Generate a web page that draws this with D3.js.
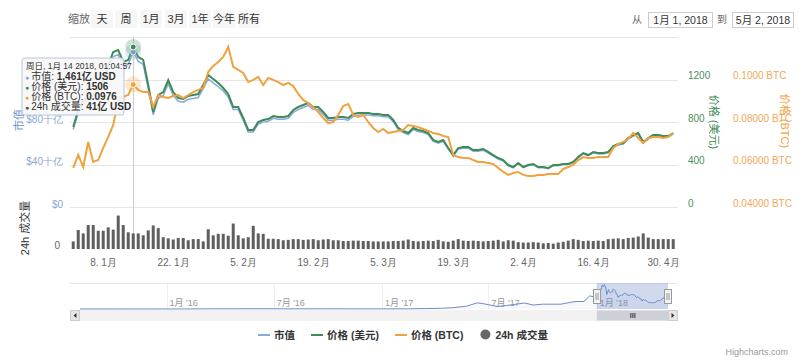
<!DOCTYPE html>
<html><head><meta charset="utf-8">
<script src="https://cdn.jsdelivr.net/npm/d3@7"></script>
<style>
html,body{margin:0;padding:0;background:#fff;}
svg{display:block;font-family:"Liberation Sans","Noto Sans CJK SC",sans-serif;}
</style></head>
<body><svg id="c" width="800" height="360"></svg>
<script>
// ---------- DATA ----------
const startDate = "2018-01-02";           // first daily point (Jan 2 … May 2)
const priceUSD = [753,913,1007,1026,1054,1120,1195,1336,1459,1478,
 1365,1384,1506,1412,1384,1148,894,1054,1082,1195,
 1082,1026,1016,1045,1054,1063,1148,1242,1205,1167,
 1120,1063,941,941,838,725,725,800,819,828,
 856,847,847,856,913,941,960,979,941,941,
 894,838,838,847,847,838,875,885,885,885,
 875,875,866,866,819,744,715,696,744,725,
 715,696,631,612,631,555,489,555,565,565,
 536,536,546,518,489,461,442,395,376,414,
 376,395,405,376,376,367,395,395,405,405,
 424,471,508,489,518,508,508,518,574,593,
 602,649,678,696,612,649,678,678,668,668,696];
const priceBTC = [0.0584,0.0645,0.0588,0.0706,0.0612,0.0621,0.0678,0.0729,0.0786,0.0904,
 0.0918,0.0927,0.0976,0.0951,0.0941,0.0941,0.0871,0.0927,0.0918,0.0913,
 0.0922,0.0927,0.0913,0.0927,0.0941,0.0951,0.0960,0.1035,0.1064,0.1082,
 0.1106,0.1153,0.1059,0.1045,0.1031,0.0988,0.0998,0.1012,0.0974,0.1007,
 0.0998,0.0988,0.0974,0.0984,0.0969,0.0932,0.0904,0.0889,0.0871,0.0847,
 0.0819,0.0795,0.0800,0.0833,0.0875,0.0885,0.0833,0.0824,0.0833,0.0800,
 0.0772,0.0753,0.0767,0.0748,0.0753,0.0758,0.0762,0.0786,0.0781,0.0776,
 0.0767,0.0758,0.0748,0.0744,0.0734,0.0729,0.0645,0.0635,0.0631,0.0631,
 0.0621,0.0612,0.0612,0.0607,0.0602,0.0584,0.0565,0.0551,0.0560,0.0565,
 0.0551,0.0546,0.0546,0.0551,0.0551,0.0555,0.0555,0.0555,0.0579,0.0588,
 0.0598,0.0621,0.0635,0.0631,0.0631,0.0635,0.0635,0.0635,0.0678,0.0696,
 0.0706,0.0720,0.0748,0.0725,0.0701,0.0725,0.0729,0.0729,0.0725,0.0729,0.0748];
// market cap, billions USD (十亿)
const marketCap = [73.0,88.6,97.7,99.5,102.2,108.6,115.9,129.6,141.5,143.4,
 132.4,134.2,146.1,137.0,134.2,111.4,86.7,102.2,105.0,115.9,
 105.0,99.5,98.6,101.4,102.2,103.1,111.4,120.5,116.9,113.2,
 109.2,103.6,91.7,91.7,81.7,70.7,70.7,78.0,79.9,80.7,
 83.5,82.6,82.6,83.5,89.0,91.7,93.6,95.5,91.7,91.7,
 87.2,81.7,81.7,82.6,82.6,81.7,85.3,86.3,86.7,86.7,
 85.8,85.8,84.9,84.9,80.3,72.9,70.1,68.2,72.9,71.1,
 70.1,68.2,61.8,60.0,61.8,54.4,47.9,54.4,55.4,55.4,
 52.5,52.5,53.5,50.8,47.9,45.2,43.3,38.7,36.8,40.8,
 37.0,38.9,39.9,37.0,37.0,36.1,38.9,38.9,39.9,39.9,
 41.8,46.4,50.0,48.2,51.0,50.0,50.0,51.0,56.5,58.4,
 59.3,63.9,66.8,68.6,60.3,63.9,66.8,66.8,65.8,65.8,68.6];
// 24h volume, 亿 USD
const volume = [20,50,41,63,63,48,48,57,51,88,
 63,44,41,41,36,49,62,55,31,28,
 25,29,29,23,26,26,20,52,36,40,
 40,35,67,36,28,31,61,41,40,27,
 27,26,23,24,26,26,24,25,26,23,
 25,26,23,23,21,21,22,22,21,21,
 20,20,20,20,21,21,22,25,21,20,
 21,22,21,24,20,19,22,26,22,21,
 22,21,20,21,22,24,20,23,22,18,
 17,17,18,17,15,16,14,17,19,22,
 26,24,21,22,21,22,21,26,27,28,
 26,29,30,33,41,30,26,26,26,26,26];
// navigator history before 2018 (market cap, billions)
const historyDates = ["2015-08-07","2015-11-01","2016-02-01","2016-03-15","2016-06-15","2016-07-15","2016-10-01","2017-01-01","2017-02-15","2017-03-15","2017-04-10","2017-05-01","2017-05-25","2017-06-12","2017-06-25","2017-07-16","2017-08-01","2017-08-31","2017-09-15","2017-10-01","2017-11-01","2017-11-25","2017-12-10","2017-12-20","2017-12-31"];
const historyCap = [0.2,0.07,0.2,1.0,1.5,1.0,1.1,0.7,1.1,2.5,4.3,7.5,17,37,30,15,21,36,24,29,29,45,45,78,72];

const xTickDates = ["2018-01-08","2018-01-22","2018-02-05","2018-02-19","2018-03-05","2018-03-19","2018-04-02","2018-04-16","2018-04-30"];
const capTicks = [0,40,80];               // $120十亿 is hidden under the tooltip in the reference
const capTickLabels = ["$0","$40十亿","$80十亿"];
const usdTicks = [0,400,800,1200];
const btcTicks = [0.04,0.06,0.08,0.10];
const btcTickLabels = ["0.04000 BTC","0.06000 BTC","0.08000 BTC","0.1000 BTC"];
const navTickDates = ["2016-01-01","2016-07-01","2017-01-01","2017-07-01","2018-01-01"];
const navTickLabels = ["1月 '16","7月 '16","1月 '17","7月 '17","1月 '18"];
const rangeButtons = ["天","周","1月","3月","1年","今年","所有"];
const seriesNames = ["市值","价格 (美元)","价格 (BTC)","24h 成交量"];
const tooltipDate = "2018-01-14";
const tooltipHeader = "周日, 1月 14 2018, 01:04:57";
const tooltipValues = ["1,461亿 USD","1506","0.0976","41亿 USD"];
const rangeFrom = "1月 1, 2018", rangeTo = "5月 2, 2018";

// ---------- SETUP ----------
const C = {cap:"#86aadb", usd:"#3f8b57", btc:"#f0a23e", vol:"#666666", nav:"#6c8cc9"};
const parse = d3.timeParse("%Y-%m-%d");
const t0 = parse(startDate);
const dates = priceUSD.map((_,i)=>{const d=d3.timeDay.offset(t0,i); d.setHours(1,4,57); return d;});
const svg = d3.select("#c");
svg.append("rect").attr("width",800).attr("height",360).attr("fill","#fff");

const L=70, R=678, mainTop=37, mainBot=207, volTop=211, volBot=249;
const x = d3.scaleTime().domain([new Date(2018,0,1), new Date(2018,4,3)]).range([68,678]);
const yUSD = d3.scaleLinear().domain([0,1600]).range([mainBot,mainTop]);
const yBTC = d3.scaleLinear().domain([0.04,0.12]).range([mainBot,mainTop]);
const yCap = d3.scaleLinear().domain([0,160]).range([mainBot,mainTop]);
const yVol = d3.scaleLinear().domain([0,100]).range([volBot,volTop]);

// gridlines
svg.append("g").selectAll("line").data([0,400,800,1200,1600]).join("line")
  .attr("x1",L).attr("x2",R).attr("y1",d=>Math.round(yUSD(d))+0.5).attr("y2",d=>Math.round(yUSD(d))+0.5)
  .attr("stroke","#e6e6e6");

// axes
const axL = d3.axisLeft(yCap).tickValues(capTicks).tickFormat((d,i)=>capTickLabels[i]).tickSize(0).tickPadding(7);
const gL = svg.append("g").attr("transform",`translate(${L},-3)`).call(axL);
const axR1 = d3.axisRight(yUSD).tickValues(usdTicks).tickFormat(d3.format("d")).tickSize(0).tickPadding(18);
const gR1 = svg.append("g").attr("transform",`translate(${R-8},-4)`).call(axR1);
const axR2 = d3.axisRight(yBTC).tickValues(btcTicks).tickFormat((d,i)=>btcTickLabels[i]).tickSize(0).tickPadding(55);
const gR2 = svg.append("g").attr("transform",`translate(${R},-4)`).call(axR2);
[gL,gR1,gR2].forEach(g=>{g.select(".domain").remove(); g.selectAll("text").attr("font-size",10).attr("font-family",null);});
gL.selectAll("text").attr("fill","#8aa6d4");
gR1.selectAll("text").attr("fill","#4a8f5e");
gR2.selectAll("text").attr("fill","#f2a85a");

const axV = d3.axisLeft(yVol).tickValues([0]).tickSize(0).tickPadding(10);
const gV = svg.append("g").attr("transform",`translate(${L},-4)`).call(axV);
gV.select(".domain").remove(); gV.selectAll("text").attr("font-size",10).attr("fill","#666").attr("font-family",null);

const xAx = d3.axisBottom(x).tickValues(xTickDates.map(parse))
  .tickFormat(d=>`${d.getDate()}. ${d.getMonth()+1}月`).tickSize(0).tickPadding(8);
const gX = svg.append("g").attr("transform",`translate(0,${volBot+2})`).call(xAx);
gX.select(".domain").remove(); gX.selectAll("text").attr("font-size",10).attr("fill","#666").attr("font-family",null);

// axis titles
svg.append("text").attr("transform","translate(23,120) rotate(-90)").attr("text-anchor","middle")
  .attr("font-size",11).attr("fill","#6f93cf").text(seriesNames[0]);
svg.append("text").attr("transform","translate(710,122) rotate(90)").attr("text-anchor","middle")
  .attr("font-size",11).attr("fill","#3f8b57").text(seriesNames[1]);
svg.append("text").attr("transform","translate(781,121) rotate(90)").attr("text-anchor","middle")
  .attr("font-size",11).attr("fill","#f0a23e").text(seriesNames[2]);
svg.append("text").attr("transform","translate(29,228) rotate(-90)").attr("text-anchor","middle")
  .attr("font-size",11).attr("fill","#333").text(seriesNames[3]);

// crosshair
const ti = dates.findIndex(d=>d3.timeFormat("%Y-%m-%d")(d)===tooltipDate);
const xCross = x(dates[ti]);
svg.append("line").attr("x1",Math.round(xCross)+0.5).attr("x2",Math.round(xCross)+0.5)
  .attr("y1",mainTop).attr("y2",volBot).attr("stroke","#cccccc");

// volume bars
svg.append("g").selectAll("rect").data(volume).join("rect")
  .attr("x",(d,i)=>x(dates[i])-1.5).attr("width",3)
  .attr("y",d=>yVol(d)).attr("height",d=>volBot-yVol(d)).attr("fill","#5f5f5f");

// lines
const mk = ys => d3.line().x((d,i)=>x(dates[i])).y(d=>ys(d));
svg.append("path").datum(marketCap).attr("d",mk(yCap)).attr("fill","none").attr("stroke",C.cap).attr("stroke-width",1.5);
svg.append("path").datum(priceUSD).attr("d",mk(yUSD)).attr("fill","none").attr("stroke",C.usd).attr("stroke-width",2);
svg.append("path").datum(priceBTC).attr("d",mk(yBTC)).attr("fill","none").attr("stroke",C.btc).attr("stroke-width",2);

// hover markers
[[yCap(marketCap[ti]),C.cap],[yUSD(priceUSD[ti]),C.usd],[yBTC(priceBTC[ti]),C.btc]].forEach(([yy,c])=>{
  svg.append("circle").attr("cx",xCross).attr("cy",yy).attr("r",8).attr("fill",c).attr("opacity",0.25);
  svg.append("circle").attr("cx",xCross).attr("cy",yy).attr("r",3).attr("fill",c).attr("stroke","#fff").attr("stroke-width",1);
});

// tooltip
const tt = svg.append("g").attr("transform","translate(22,58)");
tt.append("rect").attr("width",102).attr("height",57).attr("rx",3)
  .attr("fill","rgba(247,247,247,0.9)").attr("stroke","#b9c6dc");
tt.append("text").attr("x",4).attr("y",11).attr("font-size",8.5).attr("fill","#333").text(tooltipHeader);
const tCols = [C.cap,C.usd,C.btc,"#555"];
seriesNames.forEach((n,i)=>{
  const t = tt.append("text").attr("x",3).attr("y",22+i*10).attr("font-size",10).attr("fill","#333");
  t.append("tspan").attr("fill",tCols[i]).attr("font-size",7).text("● ");
  t.append("tspan").text(n+": ");
  t.append("tspan").attr("font-weight","bold").text(tooltipValues[i]);
});

// range selector
svg.append("text").attr("x",79).attr("y",23).attr("text-anchor","middle").attr("font-size",11).attr("fill","#666").text("缩放");
const bx = [102,126,151,176,200,224,249];
rangeButtons.forEach((b,i)=>{
  svg.append("rect").attr("x",bx[i]-11).attr("y",10).attr("width",22).attr("height",18).attr("rx",2).attr("fill","#f7f7f7");
  svg.append("text").attr("x",bx[i]).attr("y",23).attr("text-anchor","middle").attr("font-size",11).attr("fill","#333").text(b);
});
svg.append("text").attr("x",637).attr("y",23).attr("text-anchor","middle").attr("font-size",10).attr("fill","#666").text("从");
svg.append("rect").attr("x",648.5).attr("y",12.5).attr("width",64).attr("height",15).attr("fill","#fff").attr("stroke","#cccccc");
svg.append("text").attr("x",680.5).attr("y",24).attr("text-anchor","middle").attr("font-size",10.5).attr("fill","#333").text(rangeFrom);
svg.append("text").attr("x",722).attr("y",23).attr("text-anchor","middle").attr("font-size",10).attr("fill","#666").text("到");
svg.append("rect").attr("x",732.5).attr("y",12.5).attr("width",61).attr("height",15).attr("fill","#fff").attr("stroke","#cccccc");
svg.append("text").attr("x",763).attr("y",24).attr("text-anchor","middle").attr("font-size",10.5).attr("fill","#333").text(rangeTo);

// ---------- NAVIGATOR ----------
const navTop=283, navBot=309;
const nx = d3.scaleTime().domain([parse("2015-08-07"), parse("2018-05-02")]).range([80,668]);
const ny = d3.scaleLinear().domain([0,150]).range([navBot,navTop+1]);
svg.append("line").attr("x1",L).attr("x2",R).attr("y1",navTop+0.5).attr("y2",navTop+0.5).attr("stroke","#e6e6e6");
const navT = navTickDates.map(parse);
svg.append("g").selectAll("line").data(navT).join("line")
  .attr("x1",d=>Math.round(nx(d))+0.5).attr("x2",d=>Math.round(nx(d))+0.5)
  .attr("y1",navTop).attr("y2",navBot).attr("stroke","#eeeeee");
svg.append("g").selectAll("text").data(navT).join("text")
  .attr("x",d=>nx(d)+3).attr("y",navBot-3).attr("font-size",9).attr("fill","#999")
  .text((d,i)=>navTickLabels[i]);
const navData = historyDates.map((d,i)=>[parse(d),historyCap[i]]).concat(dates.map((d,i)=>[d,marketCap[i]]));
svg.append("path").datum(navData)
  .attr("d",d3.area().x(d=>nx(d[0])).y0(navBot).y1(d=>ny(d[1])))
  .attr("fill",C.nav).attr("opacity",0.06);
svg.append("path").datum(navData)
  .attr("d",d3.line().x(d=>nx(d[0])).y(d=>ny(d[1])))
  .attr("fill","none").attr("stroke",C.nav).attr("stroke-width",1);
const selA = nx(parse("2018-01-01")), selB = nx(parse("2018-05-02"));
svg.append("rect").attr("x",selA).attr("y",navTop).attr("width",selB-selA).attr("height",navBot-navTop)
  .attr("fill","rgba(102,133,194,0.3)");
// scrollbar
svg.append("rect").attr("x",L+0.5).attr("y",310.5).attr("width",R-L-1).attr("height",10).attr("fill","#f2f2f2").attr("stroke","#f2f2f2");
svg.append("rect").attr("x",selA).attr("y",310.5).attr("width",selB-selA).attr("height",10).attr("fill","#cdd0d8");
[-2,0,2].forEach(o=>svg.append("line").attr("x1",(selA+selB)/2+o+0.5).attr("x2",(selA+selB)/2+o+0.5)
  .attr("y1",313).attr("y2",318).attr("stroke","#333"));
[[L,1],[R-10,-1]].forEach(([bx0,dir])=>{
  svg.append("rect").attr("x",bx0+0.5).attr("y",310.5).attr("width",9).attr("height",10).attr("fill","#e6e6e6").attr("stroke","#cccccc");
  const cx=bx0+5, cy=315.5;
  svg.append("path").attr("d",dir>0?`M${cx+1.5},${cy-2.5}L${cx-1.5},${cy}L${cx+1.5},${cy+2.5}Z`:`M${cx-1.5},${cy-2.5}L${cx+1.5},${cy}L${cx-1.5},${cy+2.5}Z`).attr("fill","#333");
});
// handles
[selA,selB].forEach(hx=>{
  svg.append("rect").attr("x",Math.round(hx)-3.5).attr("y",289.5).attr("width",7).attr("height",14).attr("fill","#f2f2f2").attr("stroke","#999");
  svg.append("line").attr("x1",Math.round(hx)-1).attr("x2",Math.round(hx)-1).attr("y1",293).attr("y2",300).attr("stroke","#999");
  svg.append("line").attr("x1",Math.round(hx)+1).attr("x2",Math.round(hx)+1).attr("y1",293).attr("y2",300).attr("stroke","#999");
});

// ---------- LEGEND ----------
const lg = svg.append("g").attr("font-size",10.5).attr("font-weight","bold").attr("fill","#333");
const legColors = [C.cap,C.usd,C.btc,"#666"];
let cursor = 0;
seriesNames.forEach((n,i)=>{
  const g = lg.append("g").attr("transform",`translate(${cursor},0)`);
  if(i<3) g.append("line").attr("x1",0).attr("x2",12).attr("y1",335).attr("y2",335).attr("stroke",legColors[i]).attr("stroke-width",2);
  else g.append("circle").attr("cx",6).attr("cy",334.5).attr("r",5).attr("fill",legColors[i]);
  const t = g.append("text").attr("x",16).attr("y",339).text(n);
  cursor += 16 + t.node().getComputedTextLength() + 16;
});
const totalW = cursor - 16;
lg.attr("transform",`translate(${Math.round(403 - totalW/2)},0)`);

svg.append("text").attr("x",788).attr("y",355).attr("text-anchor","end").attr("font-size",9).attr("fill","#999").text("Highcharts.com");
</script></body></html>
